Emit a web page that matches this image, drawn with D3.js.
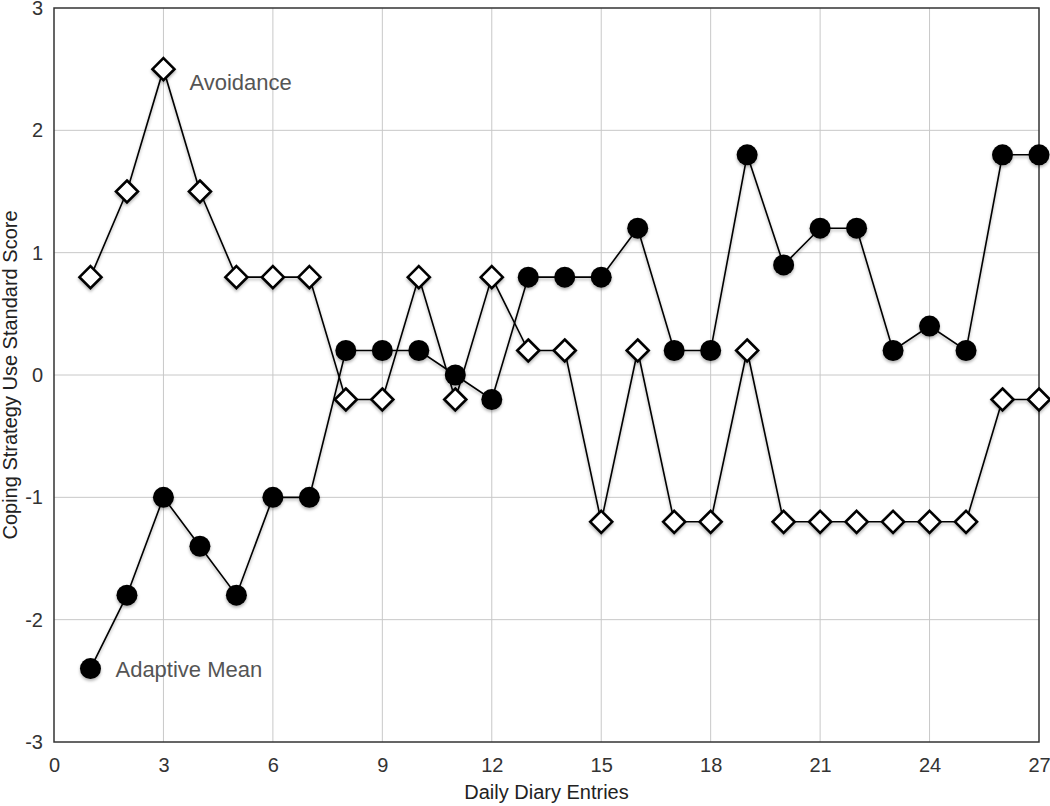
<!DOCTYPE html>
<html>
<head>
<meta charset="utf-8">
<script src="https://cdn.jsdelivr.net/npm/d3@7"></script>
<style>
  html, body { margin: 0; padding: 0; background: #fff; }
  svg { display: block; font-family: "Liberation Sans", Arial, Helvetica, sans-serif; }
</style>
</head>
<body>
<svg id="chart" width="1050" height="806"></svg>
<script>
const days = d3.range(1, 28);
const avoidance = [0.8, 1.5, 2.5, 1.5, 0.8, 0.8, 0.8, -0.2, -0.2, 0.8, -0.2, 0.8, 0.2, 0.2, -1.2, 0.2, -1.2, -1.2, 0.2, -1.2, -1.2, -1.2, -1.2, -1.2, -1.2, -0.2, -0.2];
const adaptiveMean = [-2.4, -1.8, -1.0, -1.4, -1.8, -1.0, -1.0, 0.2, 0.2, 0.2, 0.0, -0.2, 0.8, 0.8, 0.8, 1.2, 0.2, 0.2, 1.8, 0.9, 1.2, 1.2, 0.2, 0.4, 0.2, 1.8, 1.8];
const xTicks = [0, 3, 6, 9, 12, 15, 18, 21, 24, 27];
const yTicks = [-3, -2, -1, 0, 1, 2, 3];
const seriesLabels = ["Avoidance", "Adaptive Mean"];
const xTitle = "Daily Diary Entries";
const yTitle = "Coping Strategy Use Standard Score";

const svg = d3.select("#chart");
const L = 54, R = 1039, T = 8, B = 742;
const x = d3.scaleLinear().domain([0, 27]).range([L, R]);
const y = d3.scaleLinear().domain([-3, 3]).range([B, T]);
const FONT = "Liberation Sans, Arial, Helvetica, sans-serif";

const defs = svg.append("defs");
const f = defs.append("filter").attr("id", "shadow").attr("x", "-50%").attr("y", "-50%").attr("width", "200%").attr("height", "200%");
f.append("feDropShadow").attr("dx", 0).attr("dy", 2).attr("stdDeviation", 1.5).attr("flood-color", "#000").attr("flood-opacity", 0.3);

// grid
svg.append("g").selectAll("line").data(xTicks.slice(1, -1)).join("line")
  .attr("x1", d => x(d)).attr("x2", d => x(d)).attr("y1", T).attr("y2", B)
  .attr("stroke", "#c8c8c8").attr("stroke-width", 1);
svg.append("g").selectAll("line").data(yTicks.slice(1, -1)).join("line")
  .attr("x1", L).attr("x2", R).attr("y1", d => y(d)).attr("y2", d => y(d))
  .attr("stroke", "#c8c8c8").attr("stroke-width", 1);

// frame
svg.append("rect").attr("x", L).attr("y", T).attr("width", R - L).attr("height", B - T)
  .attr("fill", "none").attr("stroke", "#333").attr("stroke-width", 1.5);

// axes
const xAxis = svg.append("g").attr("transform", `translate(0,${B})`)
  .call(d3.axisBottom(x).tickValues(xTicks).tickFormat(d => String(d)).tickSize(0).tickPadding(16));
xAxis.select(".domain").remove();
xAxis.attr("font-size", 20).attr("font-family", FONT);
xAxis.selectAll("text").attr("fill", "#333");

const yAxis = svg.append("g").attr("transform", `translate(${L},0)`)
  .call(d3.axisLeft(y).tickValues(yTicks).tickFormat(d => String(d)).tickSize(0).tickPadding(11));
yAxis.select(".domain").remove();
yAxis.attr("font-size", 20).attr("font-family", FONT);
yAxis.selectAll("text").attr("fill", "#333");

svg.append("text").attr("x", (L + R) / 2).attr("y", 799).attr("text-anchor", "middle")
  .attr("font-size", 20).attr("fill", "#222").text(xTitle);
svg.append("text").attr("transform", `translate(17,${(T + B) / 2}) rotate(-90)`).attr("text-anchor", "middle")
  .attr("font-size", 20).attr("fill", "#222").text(yTitle);

const line = d3.line().x((d, i) => x(days[i])).y(d => y(d));

const g = svg.append("g").attr("filter", "url(#shadow)");
g.append("path").datum(adaptiveMean).attr("d", line).attr("fill", "none").attr("stroke", "#000").attr("stroke-width", 1.6);
g.append("path").datum(avoidance).attr("d", line).attr("fill", "none").attr("stroke", "#000").attr("stroke-width", 1.6);

g.selectAll("circle").data(adaptiveMean).join("circle")
  .attr("cx", (d, i) => x(days[i])).attr("cy", d => y(d)).attr("r", 10.5).attr("fill", "#000");

const s = 11;
g.selectAll("path.av").data(avoidance).join("path").attr("class", "av")
  .attr("d", (d, i) => {
    const cx = x(days[i]), cy = y(d);
    return `M${cx},${cy - s}L${cx + s},${cy}L${cx},${cy + s}L${cx - s},${cy}Z`;
  })
  .attr("fill", "#fff").attr("stroke", "#000").attr("stroke-width", 2.6);

svg.append("text").attr("x", x(days[2]) + 26).attr("y", y(avoidance[2]) + 21)
  .attr("font-size", 22).attr("fill", "#555").text(seriesLabels[0]);
svg.append("text").attr("x", x(days[0]) + 25).attr("y", y(adaptiveMean[0]) + 8)
  .attr("font-size", 22).attr("fill", "#555").text(seriesLabels[1]);
</script>
</body>
</html>
